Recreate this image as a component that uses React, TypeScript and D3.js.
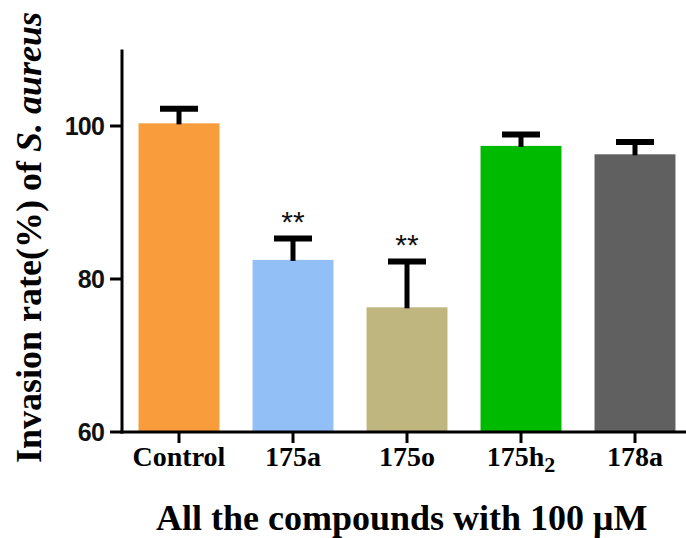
import React from "react";
import * as d3 from "d3";

const categories = ["Control", "175a", "175o", "175h2", "178a"];
const values = [100.35, 82.5, 76.3, 97.4, 96.3];
const errors = [1.9, 2.8, 6.0, 1.5, 1.6];
const significance = ["", "**", "**", "", ""];
const colors = ["#F99D3C", "#92BFF6", "#BFB57E", "#00BA00", "#606060"];
const yTicks = [60, 80, 100];

const W = 686;
const H = 538;

export default function App() {
  const x = d3
    .scaleBand<string>()
    .domain(categories)
    .range([122, 692])
    .paddingInner(0.29)
    .paddingOuter(0.145);
  const y = d3.scaleLinear().domain([60, 110]).range([432, 49.5]);
  const bw = x.bandwidth();
  const capW = 38;
  const capT = 6;

  const renderLabel = (c: string) => {
    if (c === "175h2") {
      return (
        <>
          175h<tspan fontSize={22} dy={6}>2</tspan>
        </>
      );
    }
    return c;
  };

  return (
    <svg
      width={W}
      height={H}
      style={{ position: "absolute", left: 0, top: 0, background: "#fff" }}
    >
      {categories.map((c, i) => (
        <rect
          key={c}
          x={x(c)!}
          y={y(values[i])}
          width={bw}
          height={y(60) - y(values[i])}
          fill={colors[i]}
        />
      ))}
      {categories.map((c, i) => {
        const cx = x(c)! + bw / 2;
        const top = y(values[i] + errors[i]);
        return (
          <g key={"e" + c}>
            <line
              x1={cx}
              x2={cx}
              y1={y(values[i]) + 1}
              y2={top}
              stroke="#000"
              strokeWidth={5}
            />
            <line
              x1={cx - capW / 2}
              x2={cx + capW / 2}
              y1={top}
              y2={top}
              stroke="#000"
              strokeWidth={capT}
            />
            {significance[i] && (
              <text
                x={cx}
                y={top - 6}
                textAnchor="middle"
                fontFamily="Liberation Sans, Arial, sans-serif"
                fontSize={30}
                fill="#111"
              >
                {significance[i]}
              </text>
            )}
          </g>
        );
      })}
      <line x1={122} x2={122} y1={y(110)} y2={y(60) + 1.5} stroke="#000" strokeWidth={3} />
      {yTicks.map((t) => (
        <g key={t}>
          <line x1={110} x2={122} y1={y(t)} y2={y(t)} stroke="#000" strokeWidth={3} />
          <text
            x={104}
            y={y(t) + 9}
            textAnchor="end"
            fontFamily="Liberation Sans, Arial, sans-serif"
            fontWeight="bold"
            fontSize={25}
            letterSpacing={-0.8}
            fill="#111"
          >
            {t}
          </text>
        </g>
      ))}
      <line x1={120.5} x2={686} y1={432} y2={432} stroke="#000" strokeWidth={3} />
      {categories.map((c) => {
        const cx = x(c)! + bw / 2;
        return (
          <g key={"t" + c}>
            <line x1={cx} x2={cx} y1={432} y2={443} stroke="#000" strokeWidth={3} />
            <text
              x={cx}
              y={466}
              textAnchor="middle"
              fontFamily="Liberation Serif, Times New Roman, serif"
              fontWeight="bold"
              fontSize={28}
              fill="#000"
            >
              {renderLabel(c)}
            </text>
          </g>
        );
      })}
      <text
        transform="translate(41,463) rotate(-90)"
        textAnchor="start"
        fontFamily="Liberation Serif, Times New Roman, serif"
        fontWeight="bold"
        fontSize={36}
        fill="#000"
      >
        Invasion rate(%) of <tspan fontStyle="italic">S. aureus</tspan>
      </text>
      <text
        x={156}
        y={530}
        textAnchor="start"
        fontFamily="Liberation Serif, Times New Roman, serif"
        fontWeight="bold"
        fontSize={36}
        fill="#000"
      >
        All the compounds with 100 μM
      </text>
    </svg>
  );
}
